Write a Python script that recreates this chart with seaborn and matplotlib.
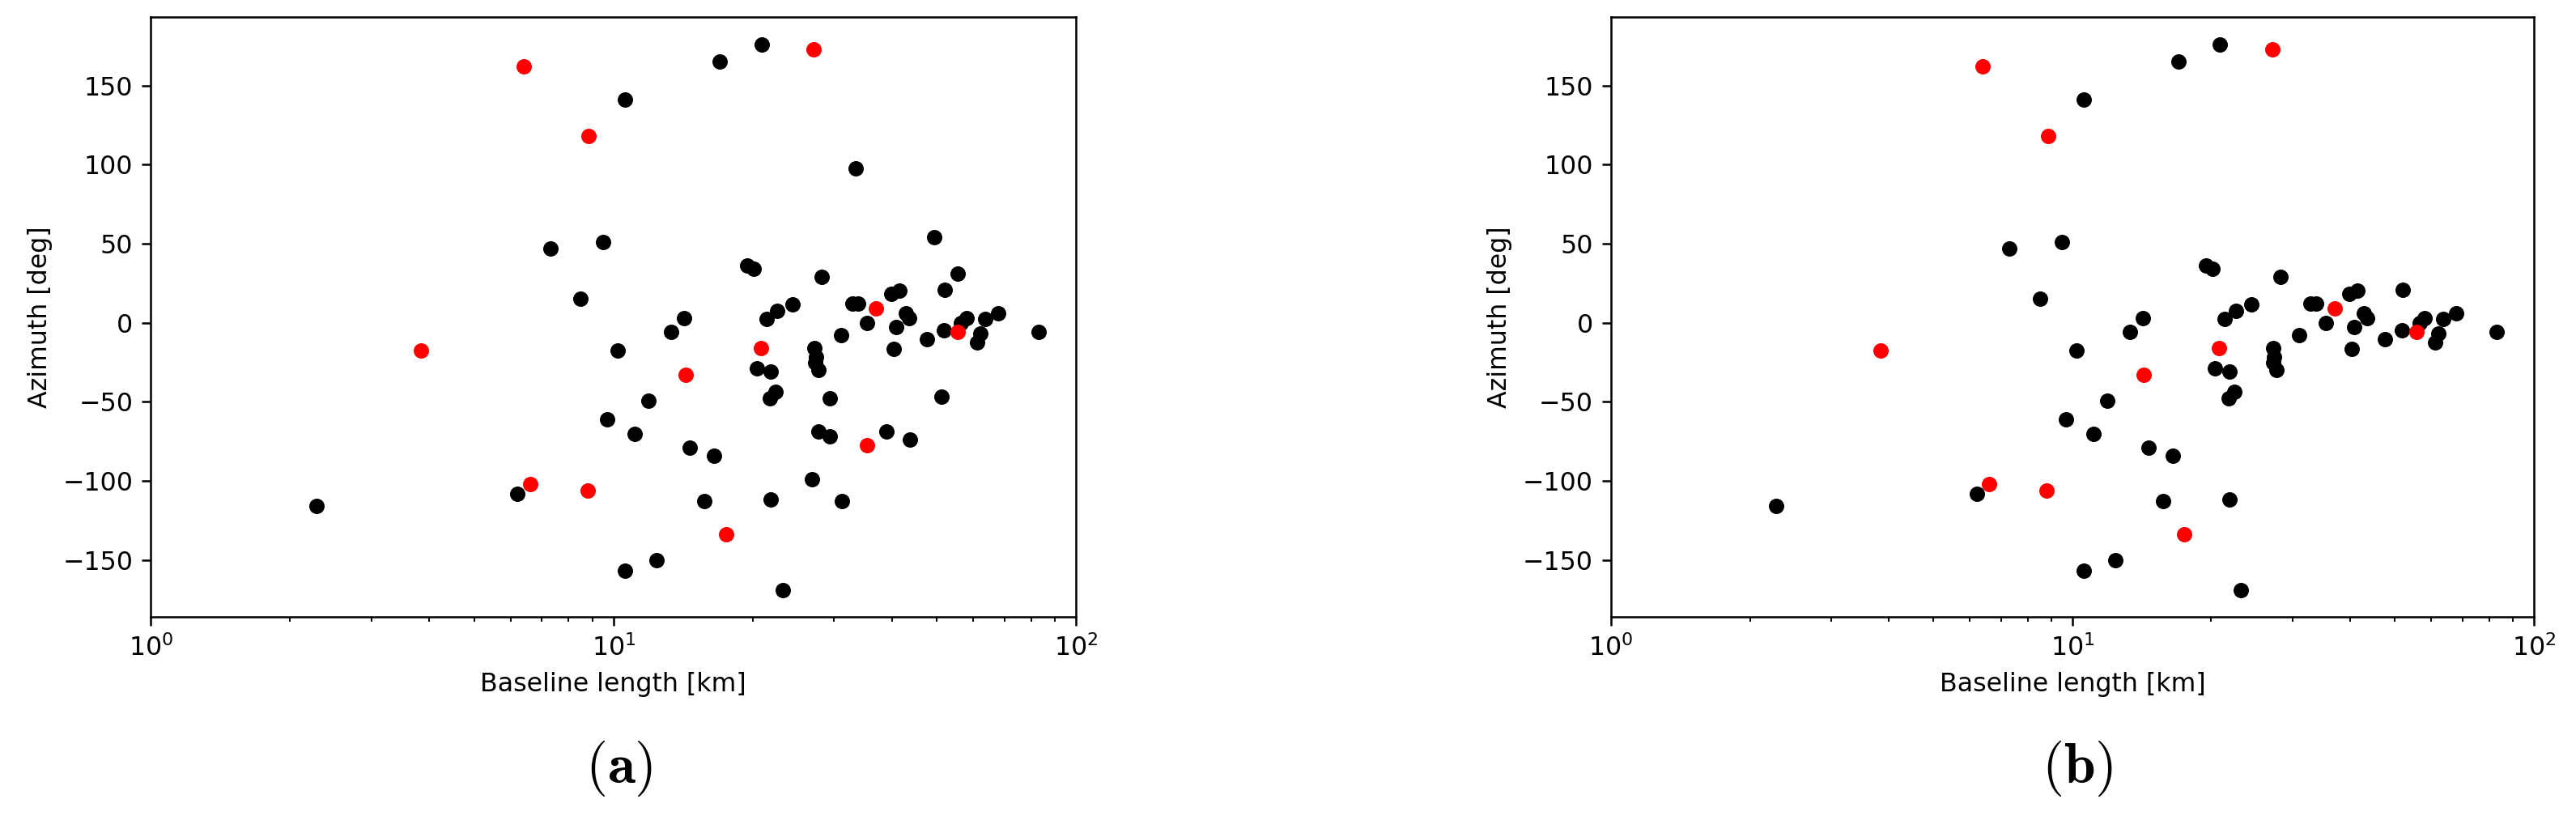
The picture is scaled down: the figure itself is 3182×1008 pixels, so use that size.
import matplotlib
matplotlib.use("Agg")
import matplotlib.pyplot as plt
import seaborn as sns
import pandas as pd

# baseline length [km] and azimuth [deg], panel (a)
black_km_a = [20.9, 17.0, 10.6, 33.4, 49.4, 9.5, 7.3, 19.5, 20.1, 55.6, 28.2, 41.5, 39.8, 52.1,
              8.5, 24.4, 32.8, 33.8, 22.6, 67.8, 42.9, 14.2, 43.6, 57.9, 63.6, 21.4, 35.4, 56.5,
              40.8, 51.9, 13.3, 62.0, 83.0, 31.0, 47.6, 61.2, 27.2, 40.4, 10.2, 27.4, 27.3, 27.7,
              20.4, 21.9, 22.4, 21.8, 29.4, 51.2, 11.9, 9.7, 11.1, 27.8, 29.4, 38.9, 43.8, 14.6,
              16.5, 26.9, 15.7, 21.9, 31.2, 12.4, 10.6, 23.2, 2.28, 6.2]
black_az_a = [176, 165, 141, 97.5, 54, 51, 47, 36, 34, 31, 29, 20, 18, 21,
              15, 11.6, 12, 12, 7.5, 6, 6, 3, 3, 3, 2.4, 2.4, 0, 0,
              -3, -5, -6, -7, -6, -8, -10.5, -12.6, -16, -16.4, -17.6, -21.5, -25.4, -29.7,
              -29, -31, -44, -48, -48, -47, -49.5, -61, -70.5, -69, -72, -69, -74, -79,
              -84, -99, -113, -112, -113, -150, -157, -169, -116, -108.5]
red_km_a = [6.4, 27.1, 8.85, 37.0, 20.8, 55.6, 14.3, 35.3, 3.84, 6.6, 8.8, 17.5]
red_az_a = [162, 173, 118, 9, -16, -6, -33, -77.5, -17.6, -102, -106, -134]

# panel (b)
black_km_b = [20.9, 17.0, 10.6, 9.5, 7.3, 19.5, 20.1, 28.2, 41.5, 39.8, 52.1, 8.5, 24.4, 32.8,
              33.8, 22.6, 67.8, 42.9, 14.2, 43.6, 57.9, 63.6, 21.4, 35.4, 56.5, 40.8, 51.9, 13.3,
              62.0, 83.0, 31.0, 47.6, 61.2, 27.2, 40.4, 10.2, 27.4, 27.3, 27.7, 20.4, 21.9, 22.4,
              21.8, 11.9, 9.7, 11.1, 14.6, 16.5, 15.7, 21.9, 12.4, 10.6, 23.2, 2.28, 6.2]
black_az_b = [176, 165, 141, 51, 47, 36, 34, 29, 20, 18, 21, 15, 11.6, 12,
              12, 7.5, 6, 6, 3, 3, 3, 2.4, 2.4, 0, 0, -3, -5, -6,
              -7, -6, -8, -10.5, -12.6, -16, -16.4, -17.6, -21.5, -25.4, -29.7, -29, -31, -44,
              -48, -49.5, -61, -70.5, -79, -84, -113, -112, -150, -157, -169, -116, -108.5]
red_km_b = [6.4, 27.1, 8.85, 37.0, 20.8, 55.6, 14.3, 3.84, 6.6, 8.8, 17.5]
red_az_b = [162, 173, 118, 9, -16, -6, -33, -17.6, -102, -106, -134]

panels = [
    ("(a)", black_km_a, black_az_a, red_km_a, red_az_a, [0.0586, 0.2438, 0.3591, 0.7354]),
    ("(b)", black_km_b, black_az_b, red_km_b, red_az_b, [0.6254, 0.2438, 0.3582, 0.7354]),
]

fig = plt.figure(figsize=(3182 / 228, 1008 / 228), dpi=228)

for tag, bk, ba, rk, ra, rect in panels:
    ax = fig.add_axes(rect)
    black_df = pd.DataFrame({"km": bk, "az": ba})
    red_df = pd.DataFrame({"km": rk, "az": ra})
    sns.scatterplot(data=black_df, x="km", y="az", color="black", s=36, linewidth=0, ax=ax)
    sns.scatterplot(data=red_df, x="km", y="az", color="red", s=36, linewidth=0, ax=ax)
    ax.set_xscale("log")
    ax.set_xlim(1, 100)
    ax.set_ylim(-186.2, 193.3)
    ax.set_yticks([-150, -100, -50, 0, 50, 100, 150])
    ax.set_xlabel("Baseline length [km]")
    ax.set_ylabel("Azimuth [deg]")
    cx = rect[0] + rect[2] / 2
    fig.text(cx + 0.002, 0.058, r"$\mathbf{(" + tag[1] + r")}$", ha="center", va="center",
             fontsize=22, math_fontfamily="cm")

fig.savefig("out.png", dpi=228)
